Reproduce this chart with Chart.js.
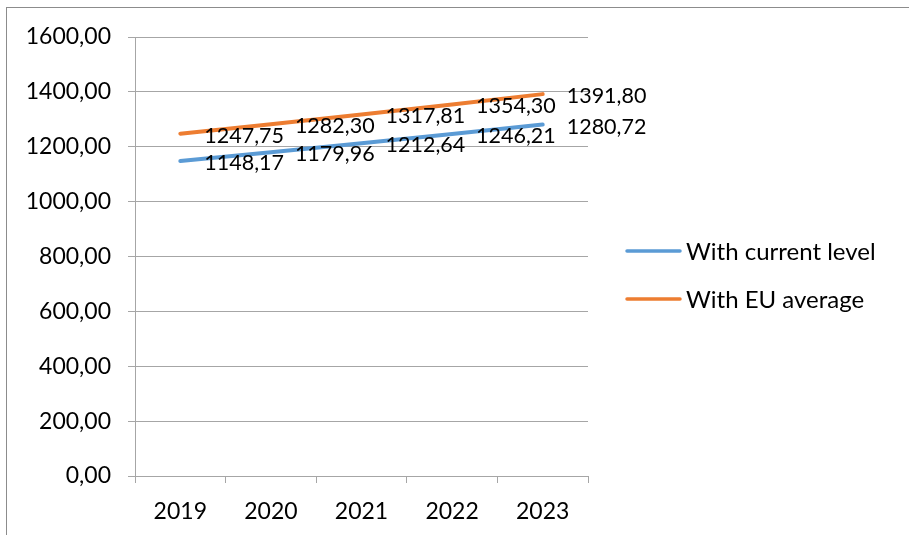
<!DOCTYPE html>
<html>
<head>
<meta charset="utf-8">
<script src="https://cdn.jsdelivr.net/npm/chart.js@4"></script>
<style>
  html, body { margin: 0; padding: 0; background: #fff; }
  #wrap { position: relative; width: 909px; height: 535px; }
</style>
</head>
<body>
<div id="wrap"><canvas id="chart"></canvas></div>
<script>
const years = ["2019", "2020", "2021", "2022", "2023"];
const currentLevel = [1148.17, 1179.96, 1212.64, 1246.21, 1280.72];
const euAverage = [1247.75, 1282.30, 1317.81, 1354.30, 1391.80];
const seriesNames = ["With current level", "With EU average"];

const FONT = "Lato, 'Open Sans', sans-serif";
const fmt = (v) => Number(v).toFixed(2).replace(".", ",");

// outer frame like the office chart border
const framePlugin = {
    id: "frame",
    beforeDraw(chart) {
        const ctx = chart.ctx;
        ctx.save();
        ctx.strokeStyle = "#8c8c8c";
        ctx.lineWidth = 1;
        ctx.strokeRect(6.5, 7.5, chart.width + 10, chart.height + 10);
        ctx.restore();
    }
};

// value labels to the right of each point
const valueLabels = {
    id: "valueLabels",
    afterDatasetsDraw(chart) {
        const ctx = chart.ctx;
        ctx.save();
        ctx.font = "21.5px " + FONT;
        ctx.fillStyle = "#000";
        ctx.textAlign = "left";
        ctx.textBaseline = "middle";
        chart.data.datasets.forEach((ds, i) => {
            chart.getDatasetMeta(i).data.forEach((pt, j) => {
                ctx.fillText(fmt(ds.data[j]), pt.x + 24, pt.y + 2);
            });
        });
        ctx.restore();
    }
};

// legend on the right, line swatch + name
const sideLegend = {
    id: "sideLegend",
    afterDraw(chart) {
        const ctx = chart.ctx;
        const x0 = chart.chartArea.right + 39;
        ctx.save();
        ctx.font = "24px " + FONT;
        ctx.textBaseline = "middle";
        chart.data.datasets.forEach((ds, i) => {
            const y = 251 + i * 48;
            ctx.strokeStyle = ds.borderColor;
            ctx.lineWidth = 3.5;
            ctx.lineCap = "round";
            ctx.beginPath();
            ctx.moveTo(x0, y);
            ctx.lineTo(x0 + 53, y);
            ctx.stroke();
            ctx.fillStyle = "#000";
            ctx.fillText(ds.label, x0 + 59, y + 1);
        });
        ctx.restore();
    }
};

new Chart(document.getElementById("chart"), {
    type: "line",
    data: {
        labels: years,
        datasets: [
            {
                label: seriesNames[0],
                data: currentLevel,
                borderColor: "#5B9BD5",
                backgroundColor: "#5B9BD5",
                borderWidth: 4,
                borderCapStyle: "round",
                pointRadius: 0,
                tension: 0
            },
            {
                label: seriesNames[1],
                data: euAverage,
                borderColor: "#ED7D31",
                backgroundColor: "#ED7D31",
                borderWidth: 4,
                borderCapStyle: "round",
                pointRadius: 0,
                tension: 0
            }
        ]
    },
    options: {
        responsive: true,
        maintainAspectRatio: false,
        animation: false,
        layout: { padding: { top: 37, right: 321, bottom: 0, left: 0 } },
        plugins: {
            legend: { display: false },
            tooltip: { enabled: false }
        },
        scales: {
            x: {
                offset: true,
                grid: {
                    offset: true,
                    drawOnChartArea: false,
                    drawTicks: true,
                    tickLength: 7,
                    color: "#a6a6a6"
                },
                border: { display: true, color: "#a6a6a6" },
                ticks: {
                    color: "#000",
                    font: { family: FONT, size: 23 },
                    padding: 15,
                    maxRotation: 0
                },
                afterFit: (scale) => { scale.height = 59; }
            },
            y: {
                min: 0,
                max: 1600,
                ticks: {
                    stepSize: 200,
                    color: "#000",
                    font: { family: FONT, size: 23 },
                    padding: 17,
                    callback: (v) => fmt(v)
                },
                grid: {
                    color: "#a6a6a6",
                    tickLength: 7,
                    drawTicks: true
                },
                border: { display: true, color: "#a6a6a6" },
                afterFit: (scale) => { scale.width = 135; }
            }
        }
    },
    plugins: [framePlugin, valueLabels, sideLegend]
});
</script>
</body>
</html>
